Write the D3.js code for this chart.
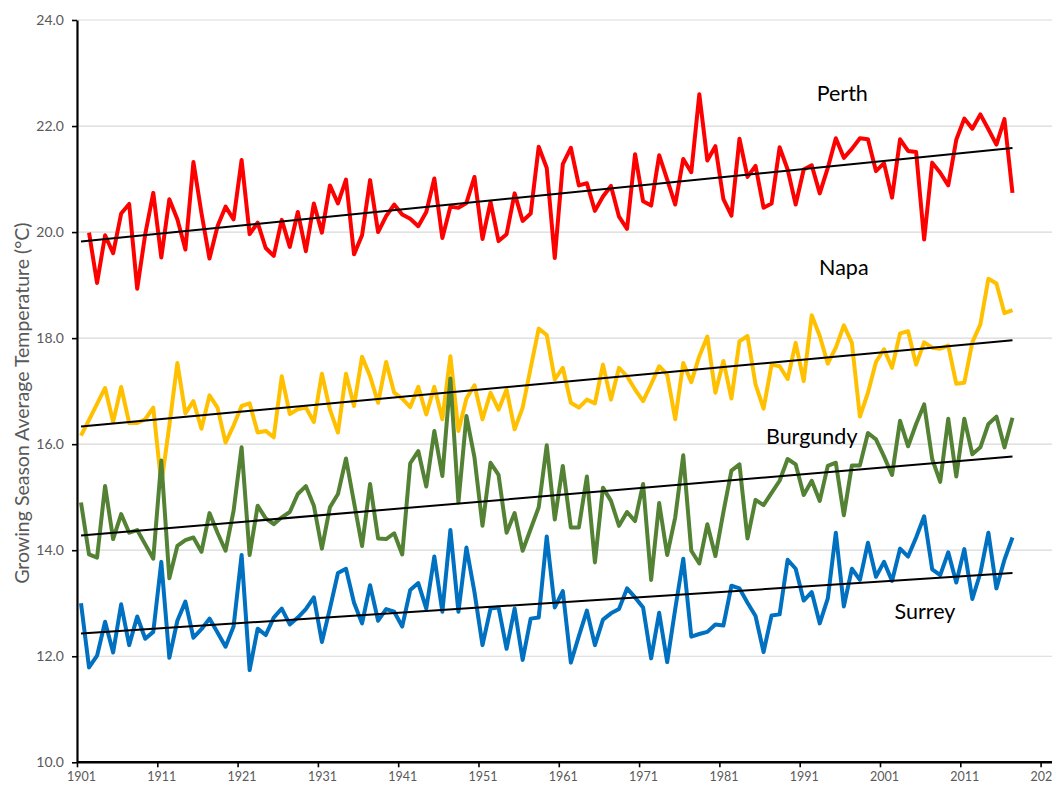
<!DOCTYPE html>
<html>
<head>
<meta charset="utf-8">
<script src="https://cdn.jsdelivr.net/npm/d3@7"></script>
<style>
  html, body { margin: 0; padding: 0; background: #ffffff; overflow: hidden; }
  svg { display: block; }
  text { font-family: Lato, "Open Sans", "Noto Sans", sans-serif; }
</style>
</head>
<body>
<svg id="chart" width="1052" height="785"></svg>
<script>
// Growing season average temperatures, 1901-2017
const firstYear = 1901;
const lastYear = 2017;
const years = d3.range(firstYear, lastYear + 1);

// Perth season starts in 1902 (no 1901 value)
const perth = [null,
  19.99, 19.04, 19.94, 19.60, 20.35, 20.53, 18.93, 19.96, 20.74, 19.52,
  20.62, 20.24, 19.67, 21.32, 20.36, 19.50, 20.11, 20.48, 20.24, 21.36,
  19.96, 20.18, 19.70, 19.55, 20.23, 19.72, 20.38, 19.64, 20.54, 19.99,
  20.88, 20.54, 20.99, 19.58, 19.94, 20.98, 20.00, 20.30, 20.52, 20.33,
  20.25, 20.11, 20.38, 21.01, 19.89, 20.48, 20.46, 20.55, 21.04, 19.87,
  20.57, 19.83, 19.96, 20.73, 20.21, 20.35, 21.61, 21.21, 19.51, 21.28,
  21.59, 20.88, 20.92, 20.40, 20.67, 20.87, 20.29, 20.06, 21.47, 20.58,
  20.50, 21.45, 20.99, 20.52, 21.38, 21.13, 22.60, 21.35, 21.62, 20.62,
  20.31, 21.76, 21.04, 21.25, 20.46, 20.54, 21.60, 21.18, 20.52, 21.18,
  21.26, 20.73, 21.21, 21.77, 21.40, 21.57, 21.77, 21.75, 21.15, 21.30,
  20.65, 21.75, 21.53, 21.51, 19.86, 21.31, 21.12, 20.88, 21.74, 22.14,
  21.95, 22.22, 21.94, 21.65, 22.13, 20.74];

const napa = [
  16.16, 16.46, 16.76, 17.06, 16.42, 17.08, 16.40, 16.40, 16.47, 16.69,
  15.25, 16.35, 17.53, 16.58, 16.81, 16.29, 16.92, 16.69, 16.03, 16.35,
  16.72, 16.77, 16.22, 16.25, 16.13, 17.28, 16.57, 16.66, 16.69, 16.42,
  17.33, 16.65, 16.22, 17.33, 16.72, 17.65, 17.28, 16.78, 17.55, 16.97,
  16.86, 16.70, 17.08, 16.56, 17.08, 16.47, 17.66, 16.25, 16.86, 17.11,
  16.47, 16.97, 16.65, 17.03, 16.28, 16.69, 17.44, 18.18, 18.06, 17.22,
  17.44, 16.78, 16.69, 16.84, 16.77, 17.50, 16.84, 17.44, 17.28, 17.03,
  16.81, 17.13, 17.47, 17.31, 16.47, 17.53, 17.17, 17.66, 18.03, 16.97,
  17.57, 16.86, 17.94, 18.04, 17.13, 16.67, 17.50, 17.47, 17.23, 17.91,
  17.19, 18.43, 18.04, 17.52, 17.82, 18.24, 17.91, 16.52, 16.97, 17.55,
  17.79, 17.44, 18.09, 18.13, 17.50, 17.92, 17.82, 17.80, 17.86, 17.14,
  17.16, 17.92, 18.26, 19.12, 19.03, 18.47, 18.53];

const burgundy = [
  14.90, 13.92, 13.86, 15.21, 14.21, 14.68, 14.33, 14.38, 14.11, 13.84,
  15.69, 13.47, 14.08, 14.19, 14.24, 13.97, 14.70, 14.33, 13.99, 14.74,
  15.94, 13.91, 14.84, 14.60, 14.49, 14.62, 14.72, 15.06, 15.21, 14.84,
  14.03, 14.81, 15.06, 15.73, 14.90, 14.08, 15.25, 14.22, 14.21, 14.32,
  13.92, 15.64, 15.87, 15.20, 16.25, 15.40, 17.24, 14.90, 16.53, 15.75,
  14.46, 15.65, 15.42, 14.33, 14.70, 13.99, 14.40, 14.81, 15.98, 14.58,
  15.59, 14.43, 14.43, 15.39, 13.77, 15.18, 14.93, 14.46, 14.72, 14.55,
  15.25, 13.44, 14.89, 13.91, 14.62, 15.79, 13.99, 13.75, 14.49, 13.89,
  14.72, 15.50, 15.62, 14.22, 14.95, 14.85, 15.08, 15.31, 15.72, 15.62,
  15.04, 15.31, 14.93, 15.59, 15.65, 14.66, 15.60, 15.60, 16.21, 16.09,
  15.77, 15.42, 16.44, 15.96, 16.38, 16.75, 15.72, 15.29, 16.48, 15.39,
  16.48, 15.81, 15.94, 16.38, 16.52, 15.94, 16.50];

const surrey = [
  13.00, 11.79, 12.01, 12.65, 12.07, 12.98, 12.21, 12.75, 12.33, 12.46,
  13.78, 11.97, 12.67, 13.03, 12.35, 12.51, 12.71, 12.45, 12.18, 12.56,
  13.91, 11.74, 12.52, 12.40, 12.73, 12.90, 12.60, 12.73, 12.89, 13.11,
  12.27, 12.90, 13.57, 13.65, 13.01, 12.62, 13.34, 12.67, 12.89, 12.84,
  12.56, 13.25, 13.38, 12.90, 13.88, 12.84, 14.38, 12.84, 14.05, 13.21,
  12.21, 12.90, 12.92, 12.14, 12.90, 11.93, 12.71, 12.73, 14.26, 12.92,
  13.23, 11.88, 12.38, 12.86, 12.21, 12.69, 12.81, 12.89, 13.28, 13.11,
  12.92, 11.96, 12.82, 11.89, 12.89, 13.84, 12.37, 12.42, 12.46, 12.60,
  12.58, 13.33, 13.28, 13.01, 12.76, 12.08, 12.77, 12.79, 13.82, 13.65,
  13.05, 13.21, 12.62, 13.09, 14.33, 12.94, 13.65, 13.44, 14.14, 13.50,
  13.78, 13.42, 14.03, 13.88, 14.24, 14.64, 13.64, 13.53, 13.96, 13.39,
  14.02, 13.08, 13.57, 14.33, 13.28, 13.82, 14.24];

const seriesNames = ["Perth", "Napa", "Burgundy", "Surrey"];
const seriesValues = [perth, napa, burgundy, surrey];
const seriesColors = ["#ff0000", "#ffc000", "#548235", "#0070c0"];
const labelYears = [1995.8, 1996.0, 1992.0, 2006.1];
const labelValues = [22.47, 19.19, 16.0, 12.7];

const yTicks = d3.range(10, 24.001, 2);
const xTicks = d3.range(1901, 2022, 10);
const yTitle = "Growing Season Average Temperature (°C)";

const svg = d3.select("#chart");

// Each year sits in the middle of its category; tick marks fall on category edges
const step = 8.03;
const x = d3.scaleLinear().domain([1901, 2031]).range([81, 81 + 130 * step]);
const y = d3.scaleLinear().domain([10, 24]).range([762.3, 20]);
const axisX = x(firstYear - 0.5);

// Horizontal gridlines
svg.append("g")
  .selectAll("line")
  .data(yTicks.filter(d => d > 10))
  .join("line")
  .attr("x1", axisX)
  .attr("x2", 1052)
  .attr("y1", d => y(d))
  .attr("y2", d => y(d))
  .attr("stroke", "#d9d9d9")
  .attr("stroke-width", 1.2);

// Y axis
const yAxis = d3.axisLeft(y)
  .tickValues(yTicks)
  .tickFormat(d3.format(".1f"))
  .tickSize(5)
  .tickSizeOuter(0)
  .tickPadding(8);

const yg = svg.append("g")
  .attr("transform", `translate(${axisX},0)`)
  .call(yAxis);
yg.select(".domain").attr("stroke", "#000").attr("stroke-width", 2.2);
yg.selectAll(".tick line").attr("stroke", "#000").attr("stroke-width", 1.6);
yg.selectAll(".tick text")
  .attr("fill", "#595959")
  .style("font-size", "14px");

// X axis
const xAxis = d3.axisBottom(x)
  .tickValues(xTicks)
  .tickFormat(d3.format("d"))
  .tickSize(5)
  .tickSizeOuter(0)
  .tickPadding(5);

const xg = svg.append("g")
  .attr("transform", `translate(0,${y(10)})`)
  .call(xAxis);
xg.select(".domain")
  .attr("d", `M${axisX},0H1052`)
  .attr("stroke", "#000")
  .attr("stroke-width", 2.6);
xg.selectAll(".tick line")
  .attr("x1", -step / 2)
  .attr("x2", -step / 2)
  .attr("stroke", "#000")
  .attr("stroke-width", 1.6);
xg.selectAll(".tick text")
  .attr("fill", "#595959")
  .style("font-size", "12.5px");

// Y axis title
svg.append("text")
  .attr("transform", `translate(29,${(y(10) + y(24)) / 2 + 12}) rotate(-90)`)
  .attr("text-anchor", "middle")
  .attr("fill", "#595959")
  .style("font-size", "19.5px")
  .text(yTitle);

// Series lines
const line = d3.line()
  .defined(d => d[1] != null)
  .x(d => x(d[0]))
  .y(d => y(d[1]));

seriesValues.forEach((vals, i) => {
  const pts = years.map((yr, k) => [yr, vals[k]]);
  svg.append("path")
    .datum(pts)
    .attr("fill", "none")
    .attr("stroke", seriesColors[i])
    .attr("stroke-width", 4)
    .attr("stroke-linejoin", "round")
    .attr("d", line);
});

// Linear trend lines (least squares fit of each series)
seriesValues.forEach(vals => {
  const pts = years.map((yr, k) => [yr, vals[k]]).filter(d => d[1] != null);
  const mx = d3.mean(pts, d => d[0]);
  const my = d3.mean(pts, d => d[1]);
  const slope = d3.sum(pts, d => (d[0] - mx) * (d[1] - my)) /
                d3.sum(pts, d => (d[0] - mx) * (d[0] - mx));
  const f = t => my + slope * (t - mx);
  svg.append("line")
    .attr("x1", x(firstYear))
    .attr("y1", y(f(firstYear)))
    .attr("x2", x(lastYear))
    .attr("y2", y(f(lastYear)))
    .attr("stroke", "#000")
    .attr("stroke-width", 2);
});

// Series labels
svg.append("g")
  .selectAll("text")
  .data(seriesNames)
  .join("text")
  .attr("x", (d, i) => x(labelYears[i]))
  .attr("y", (d, i) => y(labelValues[i]))
  .attr("text-anchor", "middle")
  .attr("fill", "#000")
  .style("font-size", "21.5px")
  .text(d => d);
</script>
</body>
</html>
